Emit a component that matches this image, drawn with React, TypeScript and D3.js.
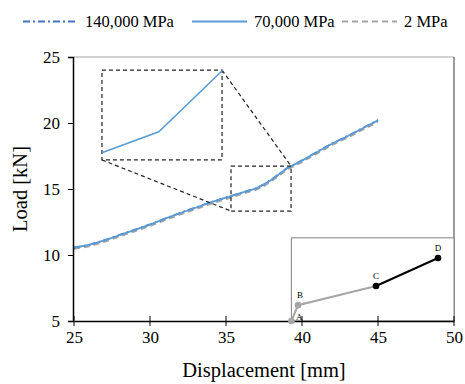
import React, { useRef, useEffect } from "react";
import * as d3 from "d3";

// displacement [mm] along the curves
const disp = [25, 26, 27, 28, 29, 30, 31, 32, 33, 34, 35, 36, 37, 37.5, 38, 39, 40, 41, 42, 43, 44, 45];
// load [kN] per stiffness case
const load140k = [10.56, 10.77, 11.12, 11.52, 11.92, 12.32, 12.76, 13.2, 13.6, 14.0, 14.36, 14.71, 15.06, 15.36, 15.72, 16.57, 17.17, 17.82, 18.46, 19.02, 19.62, 20.22];
const load70k = [10.55, 10.76, 11.1, 11.5, 11.9, 12.3, 12.75, 13.18, 13.58, 13.98, 14.35, 14.7, 15.05, 15.35, 15.7, 16.55, 17.15, 17.8, 18.45, 19.0, 19.6, 20.2];
const load2 = [10.47, 10.66, 11.0, 11.4, 11.8, 12.2, 12.64, 13.08, 13.48, 13.88, 14.24, 14.6, 14.95, 15.22, 15.6, 16.45, 17.05, 17.7, 18.35, 18.9, 19.5, 20.1];

// magnified detail (shown in the upper zoom box)
const zoomDisp = [35.35, 37.2, 39.3];
const zoomLoad = [14.42, 15.02, 16.8];
const zoomDomainY = [14.38, 16.8];

// zoom boxes in data units: [x0, x1, y0, y1]
const smallBox = [35.33, 39.28, 13.33, 16.74];
const bigBox = [26.84, 34.74, 17.2, 24.0];

// schematic inset (load stages)
const stageLabels = ["A", "B", "C", "D"];
const stageX = [39.3, 39.74, 44.87, 48.95];
const stageY = [5.0, 6.2, 7.65, 9.77];
const insetBox = [39.3, 50, 5, 11.3];

const xTicks = [25, 30, 35, 40, 45, 50];
const yTicks = [5, 10, 15, 20, 25];

const legendItems = [
  { label: "140,000 MPa", color: "#4472c4", dash: "7,3,2,3" },
  { label: "70,000 MPa", color: "#5b9bd5", dash: "" },
  { label: "2 MPa", color: "#a5a5a5", dash: "6,4" },
];

export default function App() {
  const svgRef = useRef<SVGSVGElement>(null);

  useEffect(() => {
    if (!svgRef.current) return;
    const svg = d3.select(svgRef.current);
    svg.selectAll("*").remove();

    const width = 465;
    const height = 384;
    svg.attr("width", width).attr("height", height);

    const font = "Liberation Serif, DejaVu Serif, serif";

    const x = d3.scaleLinear().domain([25, 50]).range([74, 454]);
    const y = d3.scaleLinear().domain([5, 25]).range([321, 57]);

    // plot border (top / right)
    svg.append("line")
      .attr("x1", x(25)).attr("x2", x(50)).attr("y1", y(25)).attr("y2", y(25))
      .attr("stroke", "#a6a6a6").attr("stroke-width", 1);
    svg.append("line")
      .attr("x1", x(50)).attr("x2", x(50)).attr("y1", y(25)).attr("y2", y(5))
      .attr("stroke", "#595959").attr("stroke-width", 1.2);

    const series = [
      { vals: load2, color: "#a5a5a5", dash: "6,4", w: 2 },
      { vals: load140k, color: "#4472c4", dash: "7,3,2,3", w: 1.8 },
      { vals: load70k, color: "#5b9bd5", dash: "", w: 1.8 },
    ];

    const line = d3.line<number>()
      .x((_, i) => x(disp[i]))
      .y(d => y(d));

    series.forEach(s => {
      svg.append("path")
        .datum(s.vals)
        .attr("fill", "none")
        .attr("stroke", s.color)
        .attr("stroke-width", s.w)
        .attr("stroke-dasharray", s.dash)
        .attr("d", line);
    });

    // zoom boxes
    const drawBox = (b: number[]) => {
      svg.append("rect")
        .attr("x", x(b[0])).attr("y", y(b[3]))
        .attr("width", x(b[1]) - x(b[0])).attr("height", y(b[2]) - y(b[3]))
        .attr("fill", "none").attr("stroke", "#222")
        .attr("stroke-width", 1.2).attr("stroke-dasharray", "4,3");
    };
    drawBox(smallBox);
    drawBox(bigBox);

    // connectors
    svg.append("line")
      .attr("x1", x(bigBox[1])).attr("y1", y(bigBox[3]))
      .attr("x2", x(smallBox[1])).attr("y2", y(smallBox[3]))
      .attr("stroke", "#222").attr("stroke-width", 1.2).attr("stroke-dasharray", "4,3");
    svg.append("line")
      .attr("x1", x(bigBox[0])).attr("y1", y(bigBox[2]))
      .attr("x2", x(smallBox[0])).attr("y2", y(smallBox[2]))
      .attr("stroke", "#222").attr("stroke-width", 1.2).attr("stroke-dasharray", "4,3");

    // magnified curve
    const zx = d3.scaleLinear().domain([smallBox[0], smallBox[1]]).range([x(bigBox[0]), x(bigBox[1])]);
    const zy = d3.scaleLinear().domain(zoomDomainY).range([y(bigBox[2]) - 6, y(bigBox[3])]);
    const zLine = d3.line<number>()
      .x((_, i) => zx(zoomDisp[i]))
      .y(d => zy(d));
    svg.append("path")
      .datum(zoomLoad)
      .attr("fill", "none")
      .attr("stroke", "#5b9bd5")
      .attr("stroke-width", 1.5)
      .attr("d", zLine);

    // inset schematic
    svg.append("rect")
      .attr("x", x(insetBox[0])).attr("y", y(insetBox[3]))
      .attr("width", x(insetBox[1]) - x(insetBox[0]))
      .attr("height", y(insetBox[2]) - y(insetBox[3]))
      .attr("fill", "#fff").attr("stroke", "#808080").attr("stroke-width", 1);

    const pts = stageX.map((d, i) => [x(d), y(stageY[i])] as [number, number]);
    svg.append("path")
      .attr("d", d3.line()(pts.slice(0, 3)))
      .attr("fill", "none").attr("stroke", "#a6a6a6").attr("stroke-width", 2);
    svg.append("path")
      .attr("d", d3.line()(pts.slice(2)))
      .attr("fill", "none").attr("stroke", "#000").attr("stroke-width", 2);

    // axes
    const xAxis = svg.append("g")
      .attr("transform", `translate(0,${y(5)})`)
      .call(d3.axisBottom(x).tickValues(xTicks).tickSize(0).tickPadding(10));
    xAxis.attr("font-family", null).attr("font-size", null);
    xAxis.select(".domain").attr("stroke", "#000").attr("stroke-width", 1.5);
    xTicks.forEach(t => {
      xAxis.append("line")
        .attr("x1", x(t)).attr("x2", x(t)).attr("y1", -5).attr("y2", 5)
        .attr("stroke", "#000").attr("stroke-width", 1);
    });
    xAxis.selectAll("text")
      .style("font-family", font).style("font-size", "17px").attr("fill", "#000");

    const yAxis = svg.append("g")
      .attr("transform", `translate(${x(25) - 1},0)`)
      .call(d3.axisLeft(y).tickValues(yTicks).tickSize(5).tickPadding(8));
    yAxis.attr("font-family", null).attr("font-size", null);
    yAxis.select(".domain").attr("stroke", "#000").attr("stroke-width", 1.5);
    yAxis.selectAll(".tick line").attr("stroke", "#000");
    yAxis.selectAll("text")
      .style("font-family", font).style("font-size", "17px").attr("fill", "#000");

    // stage markers on top of axis
    stageLabels.forEach((lab, i) => {
      svg.append("circle")
        .attr("cx", pts[i][0]).attr("cy", pts[i][1]).attr("r", 3.3)
        .attr("fill", i < 2 ? "#a6a6a6" : "#000");
      const dx = i === 0 ? 8 : i === 1 ? 2 : 0;
      const dy = i === 0 ? -1 : -7;
      svg.append("text")
        .attr("x", pts[i][0] + dx).attr("y", pts[i][1] + dy)
        .attr("text-anchor", "middle")
        .style("font-family", font).style("font-size", "9px")
        .attr("fill", "#000")
        .text(lab);
    });

    // axis titles
    svg.append("text")
      .attr("x", (x(25) + x(50)) / 2).attr("y", 377)
      .attr("text-anchor", "middle")
      .style("font-family", font).style("font-size", "20.5px")
      .text("Displacement [mm]");
    svg.append("text")
      .attr("transform", `translate(27,${(y(5) + y(25)) / 2}) rotate(-90)`)
      .attr("text-anchor", "middle")
      .style("font-family", font).style("font-size", "20.5px")
      .text("Load [kN]");

    // legend
    const legendX = [23, 192, 342];
    legendItems.forEach((item, i) => {
      const lx = legendX[i];
      svg.append("line")
        .attr("x1", lx).attr("x2", lx + 55).attr("y1", 21.5).attr("y2", 21.5)
        .attr("stroke", item.color).attr("stroke-width", 2)
        .attr("stroke-dasharray", item.dash);
      svg.append("text")
        .attr("x", lx + 62).attr("y", 27)
        .style("font-family", font).style("font-size", "16.5px")
        .text(item.label);
    });
  }, []);

  return (
    <svg ref={svgRef} style={{ position: "absolute", left: 0, top: 0, display: "block", background: "#fff" }} />
  );
}
